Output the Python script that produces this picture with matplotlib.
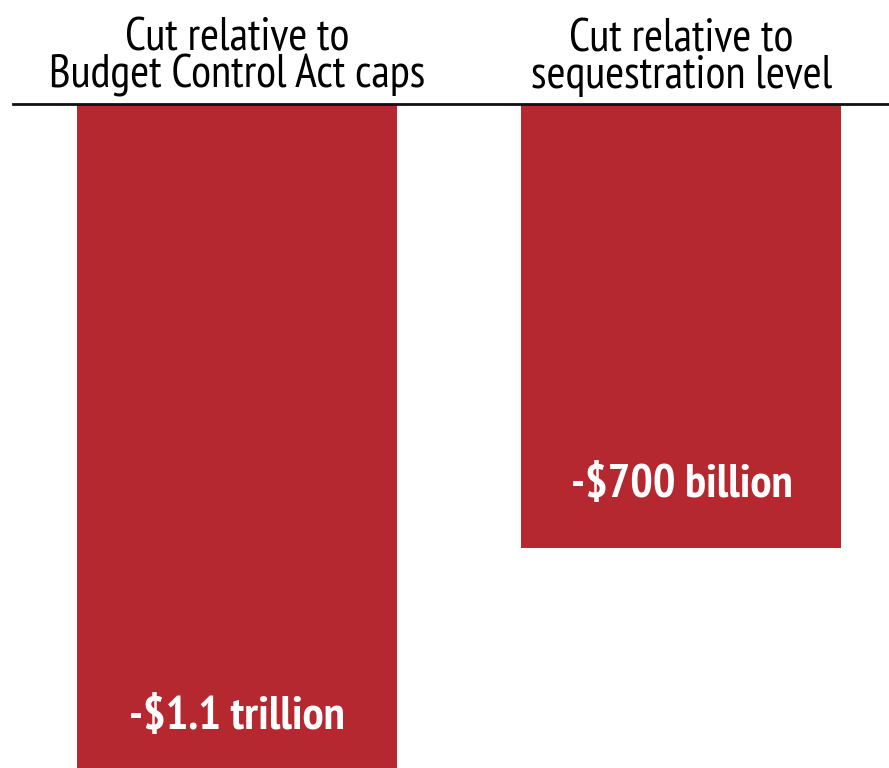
import matplotlib
matplotlib.use("Agg")
import matplotlib.pyplot as plt

# Datos: recortes en miles de millones de dólares
titulos = ["Cut relative to\nBudget Control Act caps",
           "Cut relative to\nsequestration level"]
valores = [-1100, -700]
etiquetas = ["-$1.1 trillion", "-$700 billion"]

plt.rcParams['font.family'] = ['PT Sans Narrow', 'DejaVu Sans']

rojo = '#B52830'

fig = plt.figure(figsize=(8.89, 7.68), dpi=100)
ax = fig.add_axes([0, 0, 1, 1])

pos = range(len(valores))
ax.bar(pos, valores, width=0.72, color=rojo, zorder=1)

ymin, ymax = -1047, 164
ax.set_xlim(-0.533, 1.467)
ax.set_ylim(ymin, ymax)

# Línea base
ax.axhline(0, xmin=0.015, xmax=1, color='#111111', lw=2, zorder=3)

# Títulos sobre cada barra
for x, t in zip(pos, titulos):
    ax.annotate(t, xy=(x, 0), xytext=(0, 7), textcoords='offset pixels',
                ha='center', va='bottom', fontsize=33, color='black',
                linespacing=0.86)

# Etiquetas de valor dentro de las barras
for x, v, e in zip(pos, valores, etiquetas):
    y = max(v + 100, ymin + 80)
    ax.text(x, y, e, ha='center', va='center', fontsize=34,
            fontweight='bold', color='white')

ax.axis('off')
fig.savefig('out.png', dpi=100)
